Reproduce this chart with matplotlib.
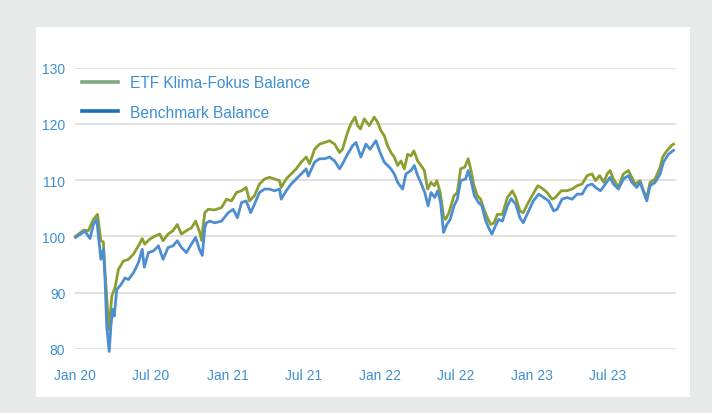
import pandas as pd
import matplotlib
matplotlib.use('Agg')
import matplotlib.pyplot as plt
from matplotlib.lines import Line2D
from matplotlib.patches import Rectangle

etf_dates = [
    '2020-01-02', '2020-01-22', '2020-02-02', '2020-02-14', '2020-02-24', '2020-03-03',
    '2020-03-09', '2020-03-13', '2020-03-19', '2020-03-23', '2020-03-29', '2020-04-06',
    '2020-04-14', '2020-04-26', '2020-05-08', '2020-05-20', '2020-06-01', '2020-06-10',
    '2020-06-16', '2020-06-28', '2020-07-10', '2020-07-22', '2020-07-30', '2020-08-11',
    '2020-08-23', '2020-09-02', '2020-09-12', '2020-09-24', '2020-10-06', '2020-10-16',
    '2020-10-26', '2020-10-30', '2020-11-07', '2020-11-15', '2020-12-01', '2020-12-17',
    '2020-12-29', '2021-01-10', '2021-01-22', '2021-02-03', '2021-02-14', '2021-02-22',
    '2021-03-06', '2021-03-18', '2021-03-30', '2021-04-11', '2021-04-23', '2021-05-05',
    '2021-05-09', '2021-05-21', '2021-06-02', '2021-06-14', '2021-06-26', '2021-07-08',
    '2021-07-16', '2021-07-28', '2021-08-09', '2021-08-21', '2021-09-02', '2021-09-14',
    '2021-09-26', '2021-10-03', '2021-10-15', '2021-10-23', '2021-11-02', '2021-11-08',
    '2021-11-15', '2021-11-24', '2021-12-06', '2021-12-18', '2021-12-26', '2022-01-03',
    '2022-01-11', '2022-01-19', '2022-01-27', '2022-02-04', '2022-02-12', '2022-02-20',
    '2022-02-28', '2022-03-08', '2022-03-16', '2022-03-23', '2022-04-01', '2022-04-09',
    '2022-04-17', '2022-04-25', '2022-05-03', '2022-05-11', '2022-05-17', '2022-05-25',
    '2022-06-02', '2022-06-07', '2022-06-15', '2022-06-27', '2022-07-05', '2022-07-13',
    '2022-07-23', '2022-07-31', '2022-08-06', '2022-08-14', '2022-08-22', '2022-08-30',
    '2022-09-07', '2022-09-15', '2022-09-23', '2022-10-01', '2022-10-09', '2022-10-21',
    '2022-11-02', '2022-11-14', '2022-11-22', '2022-12-02', '2022-12-10', '2022-12-20',
    '2022-12-31', '2023-01-14', '2023-01-25', '2023-02-05', '2023-02-17', '2023-02-25',
    '2023-03-11', '2023-03-24', '2023-04-06', '2023-04-18', '2023-04-30', '2023-05-12',
    '2023-05-24', '2023-06-01', '2023-06-11', '2023-06-21', '2023-06-29', '2023-07-06',
    '2023-07-14', '2023-07-26', '2023-08-07', '2023-08-19', '2023-08-27', '2023-09-04',
    '2023-09-16', '2023-09-24', '2023-10-02', '2023-10-10', '2023-10-22', '2023-11-03',
    '2023-11-09', '2023-11-19', '2023-12-01', '2023-12-05',
]
etf_values = [
    100.0, 101.1, 101.0, 103.0, 103.9, 99.2,
    99.0, 93.6, 87.0, 83.4, 89.3, 90.9,
    94.1, 95.6, 95.9, 96.8, 98.3, 99.6,
    98.6, 99.5, 100.0, 100.4, 99.2, 100.4,
    101.0, 102.1, 100.4, 101.0, 101.5, 102.7,
    100.7, 99.3, 104.2, 104.8, 104.7, 105.1,
    106.6, 106.3, 107.8, 108.1, 108.7, 106.3,
    107.2, 109.3, 110.2, 110.5, 110.2, 109.9,
    108.7, 110.2, 111.1, 112.0, 113.2, 114.1,
    112.9, 115.5, 116.4, 116.7, 117.0, 116.4,
    114.9, 115.5, 118.5, 120.0, 121.2, 119.7,
    119.1, 120.9, 119.7, 121.2, 120.3, 118.8,
    117.9, 116.1, 114.9, 114.1, 112.6, 113.4,
    112.0, 114.6, 114.3, 115.2, 113.4, 112.6,
    111.7, 108.4, 109.6, 109.0, 109.9, 107.8,
    103.6, 103.0, 104.2, 107.2, 107.8, 112.0,
    112.3, 113.8, 112.0, 109.0, 107.2, 106.6,
    104.8, 103.3, 102.1, 102.4, 103.9, 103.9,
    106.9, 108.1, 106.9, 104.5, 104.2, 105.7,
    107.2, 109.0, 108.5, 107.8, 106.6, 106.9,
    108.1, 108.1, 108.4, 109.0, 109.3, 110.8,
    111.1, 109.9, 110.8, 109.6, 111.1, 111.7,
    110.2, 108.7, 111.1, 111.7, 110.5, 109.3,
    109.9, 108.1, 106.9, 109.6, 110.2, 112.3,
    114.1, 115.2, 116.2, 116.4,
]

bench_dates = [
    '2020-01-02', '2020-01-25', '2020-02-06', '2020-02-14', '2020-02-22', '2020-03-03',
    '2020-03-09', '2020-03-13', '2020-03-17', '2020-03-23', '2020-03-27', '2020-03-31',
    '2020-04-04', '2020-04-10', '2020-04-20', '2020-04-30', '2020-05-08', '2020-05-20',
    '2020-06-01', '2020-06-10', '2020-06-15', '2020-06-25', '2020-07-07', '2020-07-19',
    '2020-07-30', '2020-08-11', '2020-08-23', '2020-09-02', '2020-09-12', '2020-09-24',
    '2020-10-06', '2020-10-16', '2020-10-26', '2020-11-01', '2020-11-07', '2020-11-11',
    '2020-11-19', '2020-12-01', '2020-12-17', '2021-01-02', '2021-01-14', '2021-01-24',
    '2021-02-03', '2021-02-14', '2021-02-25', '2021-03-06', '2021-03-18', '2021-03-30',
    '2021-04-11', '2021-04-23', '2021-05-05', '2021-05-09', '2021-05-21', '2021-06-02',
    '2021-06-14', '2021-06-26', '2021-07-08', '2021-07-13', '2021-07-28', '2021-08-09',
    '2021-08-21', '2021-09-02', '2021-09-14', '2021-09-26', '2021-10-03', '2021-10-15',
    '2021-10-27', '2021-11-04', '2021-11-16', '2021-11-28', '2021-12-08', '2021-12-22',
    '2022-01-01', '2022-01-11', '2022-01-19', '2022-01-27', '2022-02-04', '2022-02-12',
    '2022-02-24', '2022-03-04', '2022-03-16', '2022-03-24', '2022-04-01', '2022-04-10',
    '2022-04-18', '2022-04-26', '2022-05-03', '2022-05-12', '2022-05-19', '2022-05-26',
    '2022-06-02', '2022-06-10', '2022-06-18', '2022-06-27', '2022-07-05', '2022-07-13',
    '2022-07-25', '2022-07-31', '2022-08-07', '2022-08-15', '2022-08-25', '2022-09-02',
    '2022-09-10', '2022-09-18', '2022-09-26', '2022-10-04', '2022-10-12', '2022-10-21',
    '2022-11-02', '2022-11-11', '2022-11-22', '2022-12-02', '2022-12-10', '2022-12-21',
    '2023-01-03', '2023-01-16', '2023-01-28', '2023-02-09', '2023-02-21', '2023-03-01',
    '2023-03-13', '2023-03-25', '2023-04-06', '2023-04-18', '2023-04-30', '2023-05-12',
    '2023-05-24', '2023-06-01', '2023-06-13', '2023-06-25', '2023-07-06', '2023-07-14',
    '2023-07-26', '2023-08-07', '2023-08-19', '2023-08-27', '2023-09-08', '2023-09-16',
    '2023-09-26', '2023-10-02', '2023-10-10', '2023-10-22', '2023-11-03', '2023-11-11',
    '2023-11-23', '2023-12-05',
]
bench_values = [
    99.8, 100.9, 99.6, 102.1, 103.0, 95.9,
    97.7, 92.3, 84.0, 79.5, 84.0, 87.0,
    85.8, 90.5, 91.4, 92.6, 92.3, 93.5,
    95.3, 97.7, 94.5, 97.1, 97.4, 98.3,
    95.9, 98.0, 98.3, 99.2, 98.0, 97.1,
    98.6, 99.8, 97.5, 96.6, 101.5, 102.4,
    102.7, 102.4, 102.7, 104.2, 104.8, 103.3,
    106.0, 106.3, 104.2, 105.7, 107.8, 108.4,
    108.4, 108.1, 108.4, 106.6, 108.1, 109.3,
    110.2, 111.1, 112.0, 110.7, 113.2, 113.8,
    113.8, 114.1, 113.4, 112.0, 112.9, 114.6,
    116.1, 116.7, 114.1, 116.4, 115.5, 117.0,
    114.9, 113.2, 112.6, 112.0, 111.1, 109.6,
    108.4, 111.1, 111.7, 112.6, 110.8, 109.3,
    107.8, 105.4, 107.8, 106.9, 108.1, 106.0,
    100.7, 102.1, 103.0, 105.4, 106.6, 109.9,
    110.2, 111.7, 109.9, 107.2, 106.0, 105.4,
    103.0, 101.5, 100.4, 101.8, 103.0, 102.7,
    105.4, 106.7, 105.7, 103.3, 102.4, 104.2,
    106.3, 107.5, 106.9, 106.3, 104.5, 104.8,
    106.6, 106.9, 106.6, 107.5, 107.5, 109.0,
    109.3, 108.7, 108.1, 109.3, 110.5, 109.3,
    108.4, 110.2, 110.8, 109.6, 108.7, 109.6,
    107.5, 106.3, 109.0, 109.6, 111.1, 113.2,
    114.6, 115.3,
]

tick_dates = ['2020-01-01', '2020-07-01', '2021-01-01', '2021-07-01',
              '2022-01-01', '2022-07-01', '2023-01-01', '2023-07-01']
tick_labels = ['Jan 20', 'Jul 20', 'Jan 21', 'Jul 21', 'Jan 22', 'Jul 22', 'Jan 23', 'Jul 23']
y_ticks = [80, 90, 100, 110, 120, 130]

label_etf = 'ETF Klima-Fokus Balance'
label_bench = 'Benchmark Balance'


def plot_balance_chart():
    plt.rcParams['font.family'] = ['Liberation Sans', 'DejaVu Sans']

    text_blue = '#3f8fd2'
    line_green = '#8c9e2f'
    line_blue = '#4d8ed0'

    fig = plt.figure(figsize=(7.12, 4.14), dpi=100)
    fig.patch.set_facecolor('#e7eae9')
    # white card behind the chart
    card = Rectangle((36 / 712, 16 / 414), 654 / 712, 370 / 414,
                     transform=fig.transFigure, facecolor='white',
                     edgecolor='none', zorder=-10)
    fig.patches.append(card)

    ax = fig.add_axes([75 / 712, 64.3 / 414, 601 / 712, 281 / 414])
    ax.set_facecolor('none')
    ax.set_zorder(1)

    etf = pd.Series(etf_values, index=pd.to_datetime(etf_dates))
    bench = pd.Series(bench_values, index=pd.to_datetime(bench_dates))

    ax.plot(etf.index, etf.values, color=line_green, linewidth=2.0, clip_on=False, zorder=3)
    ax.plot(bench.index, bench.values, color=line_blue, linewidth=2.0, clip_on=False, zorder=4)

    ax.set_ylim(80, 130)
    ax.set_yticks(y_ticks)
    ax.set_xlim(pd.Timestamp('2020-01-03'), pd.Timestamp('2023-12-11'))
    ax.set_xticks(pd.to_datetime(tick_dates))
    ax.set_xticklabels(tick_labels)

    ax.grid(True, axis='y', color='#dedede', linewidth=1.3)
    ax.set_axisbelow(True)
    for s in ax.spines.values():
        s.set_visible(False)
    ax.tick_params(axis='both', length=0, labelcolor=text_blue, labelsize=10)
    ax.tick_params(axis='y', pad=7)
    ax.tick_params(axis='x', pad=14)

    handles = [Line2D([0], [0], color='#7fa97f', linewidth=2.6),
               Line2D([0], [0], color='#1f6db4', linewidth=2.6)]
    leg = ax.legend(handles, [label_etf, label_bench], loc='upper left',
                    bbox_to_anchor=(82 / 712, 1 - 76 / 414), bbox_transform=fig.transFigure,
                    frameon=False, fontsize=11.2, handlelength=2.3, handletextpad=0.8,
                    labelspacing=0.95, borderpad=0, borderaxespad=0)
    for t in leg.get_texts():
        t.set_color(text_blue)

    fig.savefig('out.png', dpi=100)
    plt.close(fig)


if __name__ == "__main__":
    plot_balance_chart()
